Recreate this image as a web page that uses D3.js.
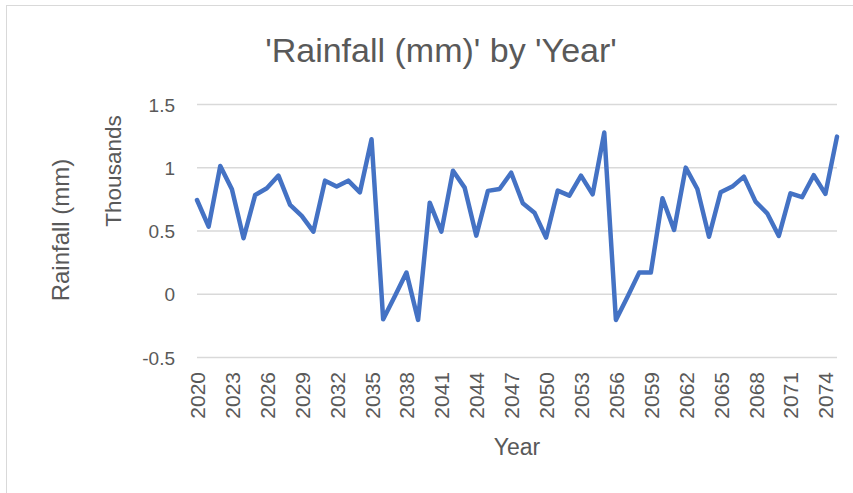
<!DOCTYPE html>
<html>
<head>
<meta charset="utf-8">
<script src="https://cdn.jsdelivr.net/npm/d3@7"></script>
<style>
  body { margin: 0; background: #fff; }
  text { font-family: "Liberation Sans", Arial, sans-serif; fill: #595959; }
</style>
</head>
<body>
<div id="chart"></div>
<script>
// rainfall per year, in mm (axis shows thousands)
var years = d3.range(2020, 2076);
var rainfall = [745, 534, 1014, 830, 443, 785, 838, 938, 706, 619,
                495, 898, 851, 898, 806, 1225, -198, -15, 171, -203,
                724, 495, 977, 843, 463, 817, 832, 961, 719, 645,
                448, 819, 780, 938, 790, 1278, -203, -20, 171, 171,
                759, 508, 1001, 832, 455, 806, 851, 930, 732, 640,
                461, 798, 767, 941, 793, 1246];
var yTicks = [-500, 0, 500, 1000, 1500];
var xTicks = d3.range(2020, 2075, 3);

var width = 853, height = 493;
var plot = {left: 197, right: 837, top: 104.5, bottom: 357.5};

var svg = d3.select("#chart").append("svg")
    .attr("width", width)
    .attr("height", height);

// chart frame (only top and left edges fall inside the picture)
svg.append("rect")
    .attr("x", 6.5).attr("y", 5.5)
    .attr("width", 1000).attr("height", 1000)
    .attr("fill", "none")
    .attr("stroke", "#d9d9d9");

var x = d3.scaleLinear().domain([2020, 2075]).range([plot.left, plot.right]);
var y = d3.scaleLinear().domain([-500, 1500]).range([plot.bottom, plot.top]);

// gridlines
svg.selectAll(".grid")
  .data(yTicks)
  .enter()
  .append("line")
    .attr("x1", plot.left)
    .attr("x2", plot.right)
    .attr("y1", function (d) { return y(d); })
    .attr("y2", function (d) { return y(d); })
    .attr("stroke", "#d9d9d9")
    .attr("stroke-width", 1.3);

// y tick labels (plain hyphen for negatives, like the original)
svg.selectAll(".ylab")
  .data(yTicks)
  .enter()
  .append("text")
    .attr("x", 175)
    .attr("y", function (d) { return y(d) + 7; })
    .attr("text-anchor", "end")
    .style("font-size", "19px")
    .text(function (d) { return String(d / 1000); });

// x tick labels, rotated
svg.selectAll(".xlab")
  .data(xTicks)
  .enter()
  .append("text")
    .attr("transform", function (d) {
      return "translate(" + (x(d) + 8) + ",372) rotate(-90)";
    })
    .attr("text-anchor", "end")
    .style("font-size", "21px")
    .text(function (d) { return d; });

// the line
var line = d3.line()
    .x(function (d, i) { return x(years[i]); })
    .y(function (d) { return y(d); });

svg.append("path")
    .datum(rainfall)
    .attr("d", line)
    .attr("fill", "none")
    .attr("stroke", "#4472c4")
    .attr("stroke-width", 4.5)
    .attr("stroke-linejoin", "round")
    .attr("stroke-linecap", "round");

// titles
svg.append("text")
    .attr("x", 441)
    .attr("y", 62)
    .attr("text-anchor", "middle")
    .style("font-size", "34px")
    .text("'Rainfall (mm)' by 'Year'");

svg.append("text")
    .attr("x", 517)
    .attr("y", 455)
    .attr("text-anchor", "middle")
    .style("font-size", "23px")
    .text("Year");

svg.append("text")
    .attr("transform", "translate(121,171) rotate(-90)")
    .attr("text-anchor", "middle")
    .style("font-size", "22.5px")
    .text("Thousands");

svg.append("text")
    .attr("transform", "translate(69,230) rotate(-90)")
    .attr("text-anchor", "middle")
    .style("font-size", "24px")
    .text("Rainfall (mm)");
</script>
</body>
</html>
